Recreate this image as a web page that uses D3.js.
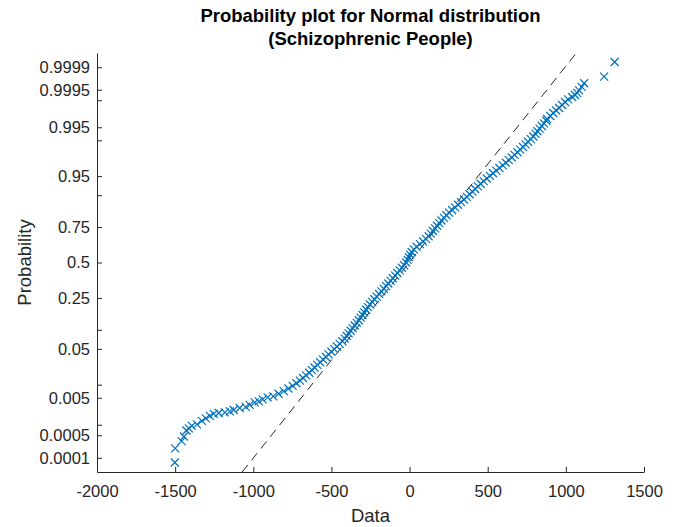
<!DOCTYPE html>
<html>
<head>
<meta charset="utf-8">
<script src="https://cdn.jsdelivr.net/npm/d3@7"></script>
<style>
  body { margin: 0; background: #fff; }
  svg { font-family: "Liberation Sans", Arial, Helvetica, sans-serif; }
</style>
</head>
<body>
<div id="chart"></div>
<script>
// ---- data ----
const xTicks = [-2000, -1500, -1000, -500, 0, 500, 1000, 1500];
const probTicks = [0.0001, 0.0005, 0.001, 0.005, 0.01, 0.05, 0.1, 0.25, 0.5, 0.75, 0.9, 0.95, 0.99, 0.995, 0.999, 0.9995, 0.9999];
const probLabels = [0.0001, 0.0005, 0.005, 0.05, 0.25, 0.5, 0.75, 0.95, 0.995, 0.9995, 0.9999];

// sorted sample values (Data) and their plotting probabilities
const sampleValues = [
  -1502, -1500, -1459, -1444, -1428, -1412, -1393, -1361, -1329, -1304, -1278, -1253,
  -1221, -1182, -1150, -1125, -1087, -1048, -1023, -991, -965, -940, -908,
  -872, -838, -805, -775, -748, -724, -702, -682, -662, -642, -625, -608,
  -590, -572, -553, -535, -518, -500, -482, -465, -447, -430, -415, -402,
  -390, -377, -364, -351, -338, -325, -313, -301, -290, -278, -266, -253,
  -239, -225, -210, -195, -180, -165, -150, -136, -121, -107, -92, -78,
  -63, -49, -35, -22, -12, -4, 4, 13, 27, 45, 66, 86,
  105, 122, 136, 150, 163, 176, 190, 204, 220, 236, 253, 272,
  291, 310, 329, 348, 366, 384, 402, 420, 437, 455, 474, 494,
  514, 534, 555, 575, 596, 616, 635, 654, 672, 690, 708, 726,
  742, 758, 775, 792, 806, 818, 832, 846, 860, 875,
  880, 900, 919, 938, 957, 976, 995, 1015, 1040, 1059, 1072, 1085, 1101, 1117, 1245, 1312
];
const sampleProbs = [
  0.00007, 0.0002, 0.000333, 0.00046, 0.00069, 0.00079, 0.00093, 0.00102, 0.00128, 0.00149, 0.00174, 0.00197,
  0.00208, 0.00215, 0.00228, 0.00249, 0.0028, 0.00298, 0.00336, 0.00385, 0.00408, 0.00457, 0.0051,
  0.00539, 0.00621, 0.00714, 0.00820, 0.00939, 0.01072, 0.01222, 0.01390, 0.01578, 0.01786, 0.02018, 0.02275,
  0.02559, 0.02872, 0.03216, 0.03593, 0.04006, 0.04457, 0.04947, 0.05480, 0.06057, 0.06681, 0.07353, 0.08076,
  0.08851, 0.09680, 0.10565, 0.11507, 0.12507, 0.13567, 0.14686, 0.15866, 0.17106, 0.18406, 0.19766, 0.21186,
  0.22663, 0.24196, 0.25785, 0.27425, 0.29116, 0.30854, 0.32636, 0.34458, 0.36317, 0.38209, 0.40129, 0.42074,
  0.44038, 0.46017, 0.48006, 0.50000, 0.51994, 0.53983, 0.55962, 0.57926, 0.59871, 0.61791, 0.63683, 0.65542,
  0.67364, 0.69146, 0.70884, 0.72575, 0.74215, 0.75804, 0.77337, 0.78814, 0.80234, 0.81594, 0.82894, 0.84134,
  0.85314, 0.86433, 0.87493, 0.88493, 0.89435, 0.90320, 0.91149, 0.91924, 0.92647, 0.93319, 0.93943, 0.94520,
  0.95053, 0.95543, 0.95994, 0.96407, 0.96784, 0.97128, 0.97441, 0.97725, 0.97982, 0.98214, 0.98422, 0.98610,
  0.98778, 0.98928, 0.99061, 0.99180, 0.99286, 0.99379, 0.99461, 0.99534, 0.99598, 0.99653,
  0.99687, 0.99736, 0.99779, 0.99810, 0.99837, 0.99865, 0.99888, 0.99905, 0.99919, 0.99929, 0.99938, 0.99948,
  0.99959, 0.99968, 0.99980, 0.999933
];

// fitted reference line (normal mean / sigma)
const refMean = -2;
const refSigma = 268;

// ---- layout ----
const width = 681, height = 527;
const plotLeft = 97, plotRight = 644, plotTop = 53, plotBottom = 472;
const zMin = -3.99, zMax = 3.99;
const axisColor = '#262626';
const markerColor = '#0072BD';

// inverse normal CDF (Acklam)
function probit(p) {
    const a = [-3.969683028665376e+01, 2.209460984245205e+02, -2.759285104469687e+02, 1.383577518672690e+02, -3.066479806614716e+01, 2.506628277459239e+00];
    const b = [-5.447609879822406e+01, 1.615858368580409e+02, -1.556989798598866e+02, 6.680131188771972e+01, -1.328068155288572e+01];
    const c = [-7.784894002430293e-03, -3.223964580411365e-01, -2.400758277161838e+00, -2.549732539343734e+00, 4.374664141464968e+00, 2.938163982698783e+00];
    const d = [7.784695709041462e-03, 3.224671290700398e-01, 2.445134137142996e+00, 3.754408661907416e+00];
    const plow = 0.02425;
    let q, r;
    if (p < plow) {
        q = Math.sqrt(-2 * Math.log(p));
        return (((((c[0]*q+c[1])*q+c[2])*q+c[3])*q+c[4])*q+c[5]) / ((((d[0]*q+d[1])*q+d[2])*q+d[3])*q+1);
    }
    if (p <= 1 - plow) {
        q = p - 0.5; r = q * q;
        return (((((a[0]*r+a[1])*r+a[2])*r+a[3])*r+a[4])*r+a[5])*q / (((((b[0]*r+b[1])*r+b[2])*r+b[3])*r+b[4])*r+1);
    }
    q = Math.sqrt(-2 * Math.log(1 - p));
    return -(((((c[0]*q+c[1])*q+c[2])*q+c[3])*q+c[4])*q+c[5]) / ((((d[0]*q+d[1])*q+d[2])*q+d[3])*q+1);
}

const x = d3.scaleLinear().domain([-2000, 1500]).range([plotLeft, plotRight]);
const yZ = d3.scaleLinear().domain([zMin, zMax]).range([plotBottom, plotTop]);
// probability scale for the axis
const yProb = p => yZ(probit(p));
yProb.range = () => yZ.range();
yProb.domain = () => [0, 1];
yProb.copy = () => yProb;

const svg = d3.select('#chart')
    .append('svg')
    .attr('width', width)
    .attr('height', height);

svg.append('defs').append('clipPath')
    .attr('id', 'plot-clip')
    .append('rect')
    .attr('x', plotLeft).attr('y', plotTop)
    .attr('width', plotRight - plotLeft).attr('height', plotBottom - plotTop);

// reference line
svg.append('line')
    .attr('clip-path', 'url(#plot-clip)')
    .attr('x1', x(refMean + refSigma * zMin))
    .attr('y1', yZ(zMin))
    .attr('x2', x(refMean + refSigma * zMax))
    .attr('y2', yZ(zMax))
    .attr('stroke', '#262626')
    .attr('stroke-width', 1)
    .attr('stroke-dasharray', '9,6');

// markers
const points = sampleValues.map((v, i) => ({ v: v, p: sampleProbs[i] }));
svg.append('g')
    .selectAll('path')
    .data(points)
    .enter()
    .append('path')
    .attr('transform', d => `translate(${x(d.v)},${yProb(d.p)})`)
    .attr('d', 'M-4,-4L4,4M-4,4L4,-4')
    .attr('fill', 'none')
    .attr('stroke', markerColor)
    .attr('stroke-width', 1.2);

// axes
const xAxis = svg.append('g')
    .attr('transform', `translate(0,${plotBottom})`)
    .call(d3.axisBottom(x).tickValues(xTicks).tickFormat(d3.format('d'))
        .tickSizeInner(-5).tickSizeOuter(0).tickPadding(13.5));

const yAxis = svg.append('g')
    .attr('transform', `translate(${plotLeft},0)`)
    .call(d3.axisLeft(yProb).tickValues(probTicks)
        .tickFormat(p => probLabels.includes(p) ? String(p) : '')
        .tickSizeInner(-5).tickSizeOuter(0).tickPadding(7));

[xAxis, yAxis].forEach(g => {
    g.select('.domain').attr('stroke', axisColor);
    g.selectAll('.tick line').attr('stroke', axisColor);
    g.selectAll('.tick text')
        .attr('fill', axisColor)
        .style('font-size', '16.5px')
        .style('font-family', '"Liberation Sans", Arial, sans-serif');
});
xAxis.selectAll('.tick text').text(d => d < 0 ? '-' + Math.abs(d) : String(d));

// titles
const cx = (plotLeft + plotRight) / 2;
svg.append('text')
    .attr('x', cx).attr('y', 22)
    .attr('text-anchor', 'middle')
    .style('font-size', '18.5px').style('font-weight', 'bold')
    .attr('fill', '#000')
    .text('Probability plot for Normal distribution');
svg.append('text')
    .attr('x', cx).attr('y', 45)
    .attr('text-anchor', 'middle')
    .style('font-size', '18.5px').style('font-weight', 'bold')
    .attr('fill', '#000')
    .text('(Schizophrenic People)');

svg.append('text')
    .attr('x', cx).attr('y', 522)
    .attr('text-anchor', 'middle')
    .style('font-size', '18.5px')
    .attr('fill', axisColor)
    .text('Data');

svg.append('text')
    .attr('transform', `translate(31,${(plotTop + plotBottom) / 2}) rotate(-90)`)
    .attr('text-anchor', 'middle')
    .style('font-size', '18.5px')
    .attr('fill', axisColor)
    .text('Probability');
</script>
</body>
</html>
